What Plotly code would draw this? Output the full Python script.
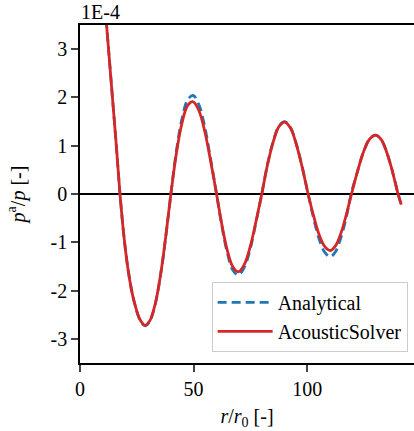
import plotly.graph_objects as go

r_vals = [10, 11.7, 13.5, 15.8, 17.6,
          19.5, 21.2, 22.6, 23.9, 26.4, 28.6,
          30.8, 32.3, 33.7, 36.0, 38.0, 40,
          42.45, 44.9, 47.35, 49.8,
          52.4, 54.95, 57.5, 60.1,
          62.5, 64.9, 67.3, 69.7,
          72.3, 74.85, 77.4, 80,
          82.5, 85.05, 87.6, 90.1,
          92.7, 95.25, 97.8, 100.4,
          102.85, 105.3, 107.75, 110.2,
          112.5, 114.85, 117.2, 119.5,
          122.2, 124.85, 127.5, 130.2,
          132.65, 135.1, 137.55, 140, 141.4]

solver = [4.5, 3.5, 2.45, 1.11, 0,
          -0.95, -1.58, -1.97, -2.24, -2.6, -2.72,
          -2.62, -2.42, -2.15, -1.5, -0.78, 0,
          0.85, 1.47, 1.83, 1.91,
          1.72, 1.29, 0.68, 0,
          -0.65, -1.18, -1.51, -1.61,
          -1.46, -1.10, -0.58, 0,
          0.60, 1.08, 1.40, 1.49,
          1.36, 1.02, 0.55, 0,
          -0.46, -0.85, -1.09, -1.17,
          -1.07, -0.81, -0.43, 0,
          0.48, 0.88, 1.14, 1.22,
          1.12, 0.85, 0.46, 0, -0.22]

analytical = [4.5, 3.5, 2.45, 1.11, 0,
              -0.95, -1.58, -1.97, -2.24, -2.61, -2.73,
              -2.63, -2.43, -2.16, -1.51, -0.79, 0,
              0.9, 1.56, 1.95, 2.04,
              1.84, 1.38, 0.72, 0,
              -0.68, -1.23, -1.58, -1.68,
              -1.52, -1.15, -0.60, 0,
              0.61, 1.09, 1.41, 1.50,
              1.37, 1.03, 0.56, 0,
              -0.51, -0.94, -1.21, -1.30,
              -1.19, -0.90, -0.48, 0.03,
              0.48, 0.88, 1.14, 1.22,
              1.12, 0.85, 0.46, 0, -0.22]

x_ticks = [0, 50, 100]
y_ticks = [-3, -2, -1, 0, 1, 2, 3]
y_ticktext = ["-3", "-2", "-1", "0", "1", "2", "3"]

FONT = "Liberation Serif"
FS = 20

fig = go.Figure()
fig.add_trace(go.Scatter(
    x=r_vals, y=analytical, mode="lines", name="Analytical",
    line=dict(color="#1f77b4", width=2.8, dash="9px,5px", shape="spline", smoothing=1.0),
))
fig.add_trace(go.Scatter(
    x=r_vals, y=solver, mode="lines", name="AcousticSolver",
    line=dict(color="#d62728", width=2.8, shape="spline", smoothing=1.0),
))

fig.update_layout(
    width=414, height=431,
    margin=dict(l=80, r=0, t=25, b=68),
    paper_bgcolor="white", plot_bgcolor="white",
    font=dict(family=FONT, size=FS, color="black"),
    showlegend=True,
    legend=dict(
        x=0.981, y=0.033, xanchor="right", yanchor="bottom",
        bgcolor="rgba(255,255,255,0.8)", bordercolor="#cccccc", borderwidth=1,
        font=dict(family=FONT, size=FS),
        tracegroupgap=0, itemwidth=55,
    ),
    xaxis=dict(
        range=[0, 147], tickvals=x_ticks, ticks="outside", ticklen=7, tickwidth=1.5,
        showline=True, linecolor="black", linewidth=1.5, mirror=True,
        showgrid=False, zeroline=False, tickfont=dict(family=FONT, size=FS),
        title=dict(text="<i>r</i>/<i>r</i><sub>0</sub> [-]", font=dict(family=FONT, size=FS), standoff=10),
    ),
    yaxis=dict(
        range=[-3.5, 3.5], tickvals=y_ticks, ticktext=y_ticktext, ticks="outside",
        ticklen=7, tickwidth=1.5, tickfont=dict(family=FONT, size=FS),
        showline=True, linecolor="black", linewidth=1.5,
        showgrid=False, zeroline=True, zerolinecolor="black", zerolinewidth=1.5,
        title=dict(text="<i>p</i><sup>a</sup>/<i>p</i> [-]", font=dict(family=FONT, size=FS), standoff=20),
    ),
    annotations=[dict(
        text="1E-4", xref="paper", yref="paper", x=0, y=1, xanchor="left", yanchor="bottom",
        showarrow=False, font=dict(family=FONT, size=FS), xshift=-1, yshift=0,
    )],
)

fig.write_html("out.html")
